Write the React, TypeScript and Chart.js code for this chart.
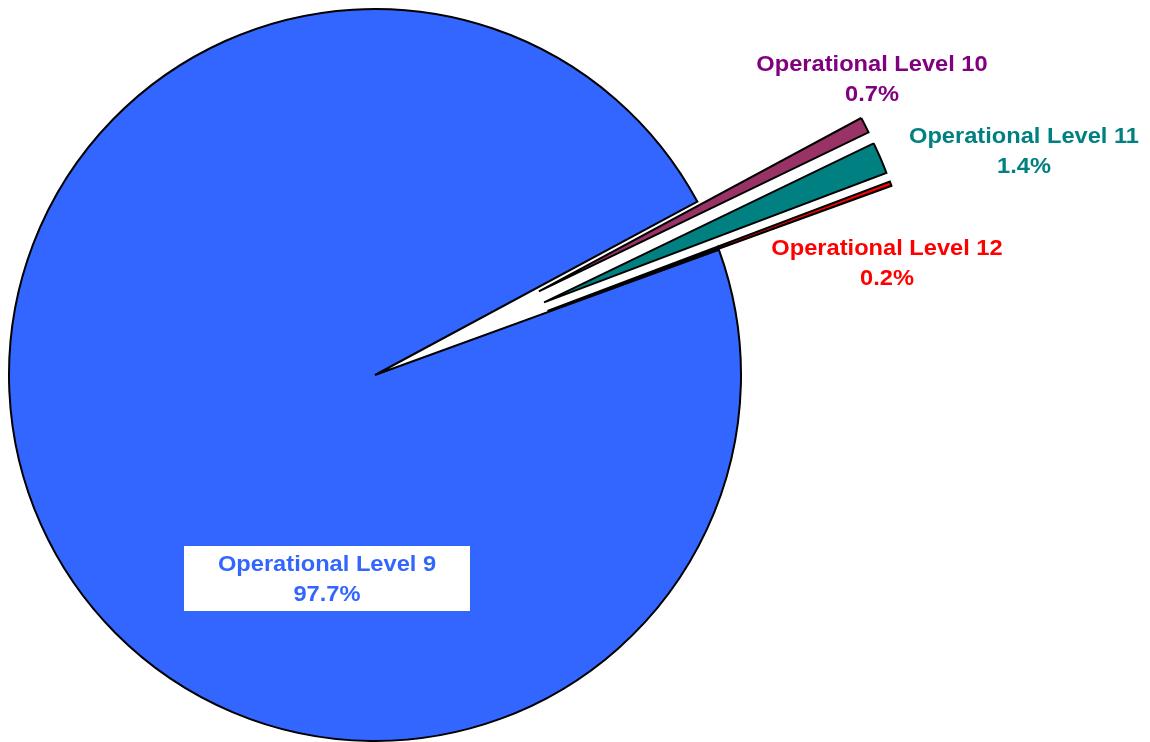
import React, { useEffect, useRef } from "react";
import { Chart, registerables } from "chart.js";

Chart.register(...registerables);

// ---- data ----
const categories = [
  "Operational Level 9",
  "Operational Level 10",
  "Operational Level 11",
  "Operational Level 12",
];
const shares = [97.7, 0.7, 1.4, 0.2];
const percentLabels = ["97.7%", "0.7%", "1.4%", "0.2%"];
const explodeFlags = [false, true, true, true];

// ---- styles ----
const sliceColors = ["#3366FF", "#993366", "#008080", "#FF0000"];
const textColors = ["#3366FF", "#800080", "#008080", "#FF0000"];
const EXPLODE_DISTANCE = 184;
const FONT = 'bold 22px "Liberation Sans", Arial, sans-serif';
const TEXT_STRETCH = 1.075;
const LINE_GAP = 29.5;
// label anchor: centre x and first baseline y
const labelLayout = [
  { x: 327, y: 571, box: { x: 184, y: 546, w: 286, h: 65 } },
  { x: 872, y: 71 },
  { x: 1024, y: 143 },
  { x: 887, y: 255 },
];

const explodePlugin = {
  id: "explodeSlices",
  afterDatasetsUpdate(chart: any) {
    const meta = chart.getDatasetMeta(0);
    meta.data.forEach((arc: any, i: number) => {
      if (!explodeFlags[i]) return;
      const mid = (arc.startAngle + arc.endAngle) / 2;
      arc.x = arc.x + Math.cos(mid) * EXPLODE_DISTANCE;
      arc.y = arc.y + Math.sin(mid) * EXPLODE_DISTANCE;
    });
  },
};

const labelPlugin = {
  id: "sliceLabels",
  afterDraw(chart: any) {
    const ctx = chart.ctx as CanvasRenderingContext2D;
    categories.forEach((name, i) => {
      const l: any = labelLayout[i];
      ctx.save();
      if (l.box) {
        ctx.fillStyle = "#FFFFFF";
        ctx.fillRect(l.box.x, l.box.y, l.box.w, l.box.h);
      }
      ctx.font = FONT;
      ctx.textAlign = "center";
      ctx.textBaseline = "alphabetic";
      ctx.fillStyle = textColors[i];
      ctx.translate(l.x, l.y);
      ctx.scale(TEXT_STRETCH, 1);
      ctx.fillText(name, 0, 0);
      ctx.fillText(percentLabels[i], 0, LINE_GAP);
      ctx.restore();
    });
  },
};

export default function App() {
  const canvasRef = useRef<HTMLCanvasElement | null>(null);

  useEffect(() => {
    const canvas = canvasRef.current;
    if (!canvas) return;
    const chart = new Chart(canvas, {
      type: "pie",
      data: {
        labels: categories,
        datasets: [
          {
            data: shares,
            backgroundColor: sliceColors,
            borderColor: "#000000",
            borderWidth: 2,
            hoverBorderWidth: 2,
            borderJoinStyle: "miter",
            borderAlign: "center",
          },
        ],
      },
      options: {
        responsive: false,
        animation: false,
        events: [],
        rotation: 70,
        layout: { padding: { left: 8, right: 408, top: 8, bottom: 0 } },
        plugins: {
          legend: { display: false },
          tooltip: { enabled: false },
        },
      } as any,
      plugins: [explodePlugin, labelPlugin],
    });
    return () => chart.destroy();
  }, []);

  return (
    <div
      style={{
        position: "absolute",
        left: 0,
        top: 0,
        width: 1150,
        height: 742,
        background: "#FFFFFF",
      }}
    >
      <canvas ref={canvasRef} width={1150} height={742} style={{ display: "block" }} />
    </div>
  );
}
